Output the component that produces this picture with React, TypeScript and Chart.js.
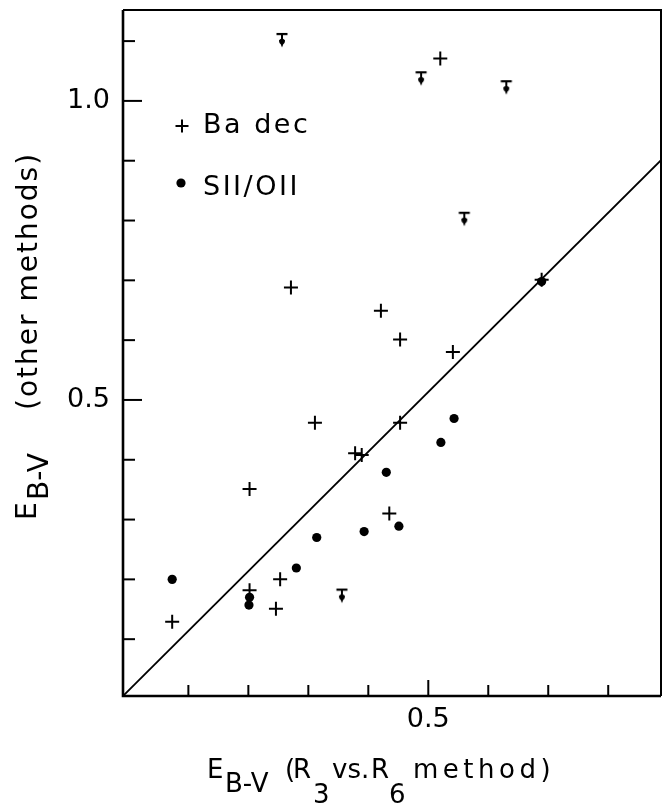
import React, { useEffect, useRef } from 'react';
import { Chart, registerables } from 'chart.js';

Chart.register(...registerables);

// ---- Data ----
const baDecX = [0.271, 0.421, 0.453, 0.311, 0.378, 0.389, 0.202, 0.453, 0.541, 0.689, 0.435, 0.253, 0.202, 0.246, 0.073, 0.520];
const baDecY = [0.688, 0.649, 0.601, 0.462, 0.411, 0.408, 0.351, 0.462, 0.580, 0.701, 0.310, 0.200, 0.182, 0.151, 0.129, 1.071];

const limitX = [0.256, 0.488, 0.630, 0.560, 0.356];
const limitY = [1.112, 1.048, 1.033, 0.813, 0.183];

const siiX = [0.543, 0.521, 0.430, 0.314, 0.393, 0.451, 0.280, 0.073, 0.202, 0.201, 0.689];
const siiY = [0.469, 0.429, 0.379, 0.270, 0.280, 0.289, 0.219, 0.200, 0.170, 0.157, 0.698];

const equalityX = [-0.009, 0.888];
const equalityY = [0.005, 0.901];

const xRange = [-0.009, 0.888];
const yRange = [0.005, 1.152];

const xTicks = [0.1, 0.2, 0.3, 0.4, 0.5, 0.6, 0.7, 0.8];
const yTicks = [0.1, 0.2, 0.3, 0.4, 0.5, 0.6, 0.7, 0.8, 0.9, 1.0, 1.1];
const xMajor = [0.5];
const yMajor = [0.5, 1.0];
const xLabelled = ['0.5'];
const yLabelled = ['0.5', '1.0'];

const legendLabels = ['Ba dec', 'SII/OII'];

const FONT = '"DejaVu Sans", "Noto Sans", sans-serif';

function zip(xs: number[], ys: number[]) {
  return xs.map((x, i) => ({ x, y: ys[i] }));
}

function makeLimitSymbol(): HTMLCanvasElement {
  const c = document.createElement('canvas');
  c.width = 14;
  c.height = 32;
  const g = c.getContext('2d')!;
  g.fillStyle = '#000';
  // bar
  g.fillRect(1.5, 15, 11, 2.2);
  // stem
  g.fillRect(6, 16, 2, 8);
  // arrow head (teardrop)
  g.beginPath();
  g.moveTo(4, 22);
  g.lineTo(10, 22);
  g.lineTo(7, 29.5);
  g.closePath();
  g.fill();
  g.beginPath();
  g.arc(7, 23.5, 2.8, 0, Math.PI * 2);
  g.fill();
  return c;
}

function zeroPadding(scale: any) {
  scale.paddingTop = 0;
  scale.paddingBottom = 0;
  scale.paddingLeft = 0;
  scale.paddingRight = 0;
}

const frameAndText = {
  id: 'frameAndText',
  afterDraw(chart: any) {
    const ctx = chart.ctx as CanvasRenderingContext2D;
    const { left, right, top, bottom } = chart.chartArea;
    const xs = chart.scales.x;
    const ys = chart.scales.y;
    ctx.save();
    ctx.strokeStyle = '#000';
    ctx.fillStyle = '#000';
    ctx.lineCap = 'butt';

    // frame
    ctx.lineWidth = 2.6;
    ctx.beginPath();
    ctx.moveTo(left, top);
    ctx.lineTo(left, bottom);
    ctx.lineTo(right, bottom);
    ctx.stroke();
    ctx.lineWidth = 2;
    ctx.beginPath();
    ctx.moveTo(left, top);
    ctx.lineTo(right, top);
    ctx.lineTo(right, bottom);
    ctx.stroke();

    // inward tick marks
    ctx.lineWidth = 2;
    xTicks.forEach((v) => {
      const px = xs.getPixelForValue(v);
      const len = xMajor.includes(v) ? 16 : 11;
      ctx.beginPath();
      ctx.moveTo(px, bottom);
      ctx.lineTo(px, bottom - len);
      ctx.stroke();
    });
    yTicks.forEach((v) => {
      const py = ys.getPixelForValue(v);
      const len = yMajor.includes(v) ? 19 : 12;
      ctx.beginPath();
      ctx.moveTo(left, py);
      ctx.lineTo(left + len, py);
      ctx.stroke();
    });

    // legend
    ctx.lineWidth = 2;
    ctx.beginPath();
    ctx.moveTo(175.5, 126);
    ctx.lineTo(188.5, 126);
    ctx.moveTo(182, 119.5);
    ctx.lineTo(182, 132.5);
    ctx.stroke();
    ctx.beginPath();
    ctx.arc(181, 183, 4.6, 0, Math.PI * 2);
    ctx.fill();
    ctx.font = `27px ${FONT}`;
    ctx.textBaseline = 'alphabetic';
    ctx.textAlign = 'left';
    (ctx as any).letterSpacing = '2.5px';
    ctx.fillText(legendLabels[0], 203, 133);
    ctx.fillText(legendLabels[1], 203, 195);
    (ctx as any).letterSpacing = '0px';

    // x axis title with subscripts
    const xPieces: [string, number, number, number][] = [
      ['E', 207, 778, 0],
      ['B-V', 225, 792, 0],
      ['(', 285, 778, 0],
      ['R', 293, 778, 0],
      ['3', 313, 803, 0],
      ['vs.', 332, 778, 0],
      ['R', 371, 778, 0],
      ['6', 389, 803, 0],
      ['method)', 413, 778, 4.5],
    ];
    ctx.font = `26px ${FONT}`;
    xPieces.forEach(([t, x, y, sp]) => {
      (ctx as any).letterSpacing = `${sp}px`;
      ctx.fillText(t, x, y);
    });
    (ctx as any).letterSpacing = '0px';

    // y axis title, rotated
    const yPieces: [string, number, number, number][] = [
      ['E', 520, 36, 0],
      ['B-V', 500, 48, 0],
      ['(other methods)', 410, 37, 2],
    ];
    ctx.font = `28px ${FONT}`;
    yPieces.forEach(([t, py, bx, sp]) => {
      ctx.save();
      ctx.translate(bx, py);
      ctx.rotate(-Math.PI / 2);
      (ctx as any).letterSpacing = `${sp}px`;
      ctx.fillText(t, 0, 0);
      ctx.restore();
    });
    ctx.restore();
  },
};

export default function App() {
  const ref = useRef<HTMLCanvasElement | null>(null);

  useEffect(() => {
    if (!ref.current) return;
    const limitSymbol = makeLimitSymbol();
    const chart = new Chart(ref.current, {
      type: 'scatter',
      data: {
        datasets: [
          {
            label: 'equality',
            data: zip(equalityX, equalityY),
            showLine: true,
            borderColor: '#000',
            borderWidth: 1.8,
            pointRadius: 0,
            fill: false,
          },
          {
            label: legendLabels[0],
            data: zip(baDecX, baDecY),
            pointStyle: 'cross',
            pointRadius: 7,
            borderColor: '#000',
            borderWidth: 2,
            backgroundColor: '#000',
          },
          {
            label: legendLabels[1],
            data: zip(siiX, siiY),
            pointStyle: 'circle',
            pointRadius: 4.6,
            borderWidth: 0,
            backgroundColor: '#000',
            borderColor: '#000',
          },
          {
            label: 'upper limit',
            data: zip(limitX, limitY),
            pointStyle: limitSymbol as any,
            pointRadius: 7,
            borderWidth: 0,
          },
        ],
      },
      options: {
        responsive: false,
        animation: false,
        events: [],
        layout: { autoPadding: false, padding: { top: 10, right: 1, left: 0, bottom: 0 } },
        plugins: {
          legend: { display: false },
          tooltip: { enabled: false },
        },
        scales: {
          x: {
            type: 'linear',
            position: 'bottom',
            min: xRange[0],
            max: xRange[1],
            grid: { display: false, drawTicks: false },
            border: { display: false },
            afterBuildTicks: (scale: any) => {
              scale.ticks = xTicks.map((v) => ({ value: v }));
            },
            afterFit: (scale: any) => {
              scale.height = 110;
              zeroPadding(scale);
            },
            ticks: {
              autoSkip: false,
              maxRotation: 0,
              padding: 8,
              color: '#000',
              font: { family: FONT, size: 27 },
              callback: (v: any) => {
                const s = Number(v).toFixed(1);
                return xLabelled.includes(s) ? s : '';
              },
            },
          },
          y: {
            type: 'linear',
            min: yRange[0],
            max: yRange[1],
            grid: { display: false, drawTicks: false },
            border: { display: false },
            afterBuildTicks: (scale: any) => {
              scale.ticks = yTicks.map((v) => ({ value: v }));
            },
            afterFit: (scale: any) => {
              scale.width = 123;
              zeroPadding(scale);
            },
            ticks: {
              autoSkip: false,
              padding: 13,
              color: '#000',
              font: { family: FONT, size: 27 },
              callback: (v: any) => {
                const s = Number(v).toFixed(1);
                return yLabelled.includes(s) ? s : '';
              },
            },
          },
        },
      },
      plugins: [frameAndText],
    });
    return () => chart.destroy();
  }, []);

  return (
    <div style={{ position: 'fixed', left: 0, top: 0, width: 662, height: 806, background: '#fff' }}>
      <canvas ref={ref} width={662} height={806} style={{ display: 'block' }} />
    </div>
  );
}
